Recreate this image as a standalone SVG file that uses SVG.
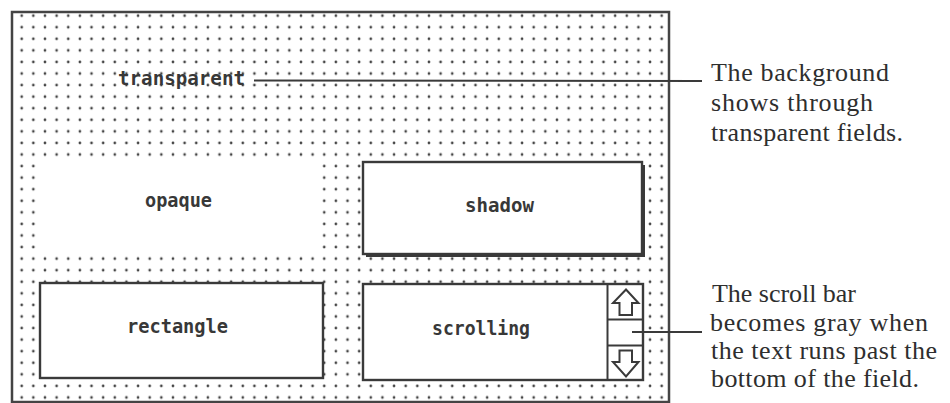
<svg xmlns="http://www.w3.org/2000/svg" width="950" height="403" viewBox="0 0 950 403">
<defs>
<pattern id="dots" x="15.88" y="9.9" width="11.636" height="11.57" patternUnits="userSpaceOnUse">
<circle cx="5.818" cy="5.785" r="1.35" fill="#444"/>
</pattern>
<style>
.lbl{font-family:"DejaVu Sans Mono","Liberation Mono",monospace;font-size:19px;font-weight:bold;fill:#383838}
.note{font-family:"Liberation Serif","Times New Roman",serif;font-size:26px;fill:#2e2e2e}
.box{fill:#fff;stroke:#3a3a3a;stroke-width:2.4}
.conn{stroke:#3a3a3a;stroke-width:2;fill:none}
.arr{fill:#fff;stroke:#3a3a3a;stroke-width:2;stroke-linejoin:miter}
</style>
</defs>
<rect width="950" height="403" fill="#fff"/>
<g id="card">
<rect x="12" y="12" width="657" height="390" fill="url(#dots)" stroke="#444" stroke-width="2.5"/>
</g>
<g id="field-transparent">
<text class="lbl" x="118" y="85" textLength="127" lengthAdjust="spacingAndGlyphs">transparent</text>
</g>
<g id="field-opaque">
<rect x="39" y="158" width="279" height="95" fill="#fff"/>
<text class="lbl" x="145" y="207" textLength="67" lengthAdjust="spacingAndGlyphs">opaque</text>
</g>
<g id="field-shadow">
<rect x="366" y="165" width="279" height="92" fill="#3a3a3a"/>
<rect class="box" x="363" y="162" width="279" height="92"/>
<text class="lbl" x="465" y="212" textLength="69" lengthAdjust="spacingAndGlyphs">shadow</text>
</g>
<g id="field-rectangle">
<rect class="box" x="40" y="283" width="283" height="95"/>
<text class="lbl" x="127" y="333" textLength="101" lengthAdjust="spacingAndGlyphs">rectangle</text>
</g>
<g id="field-scrolling">
<rect class="box" x="363" y="284" width="280" height="96"/>
<line class="conn" x1="607.5" y1="284" x2="607.5" y2="380"/>
<line class="conn" x1="607.5" y1="319.5" x2="643" y2="319.5"/>
<line class="conn" x1="607.5" y1="345.5" x2="643" y2="345.5"/>
<polygon class="arr" points="626,289.5 638.5,303 632,303 632,315 619.5,315 619.5,303 613,303"/>
<polygon class="arr" points="619.5,350.5 632,350.5 632,362 638.5,362 626,376.5 613,362 619.5,362"/>
<text class="lbl" x="432" y="335" textLength="98" lengthAdjust="spacingAndGlyphs">scrolling</text>
</g>
<g id="connectors">
<line class="conn" x1="254" y1="80.5" x2="702" y2="81"/>
<line class="conn" x1="632" y1="332" x2="702" y2="332"/>
</g>
<g id="note-transparent">
<text class="note" x="711" y="81" textLength="178">The background</text>
<text class="note" x="711" y="111" textLength="162">shows through</text>
<text class="note" x="711" y="141" textLength="192">transparent fields.</text>
</g>
<g id="note-scroll">
<text class="note" x="712" y="302" textLength="144">The scroll bar</text>
<text class="note" x="710" y="331" textLength="218">becomes gray when</text>
<text class="note" x="711" y="359" textLength="226">the text runs past the</text>
<text class="note" x="711" y="387" textLength="208">bottom of the field.</text>
</g>
</svg>
